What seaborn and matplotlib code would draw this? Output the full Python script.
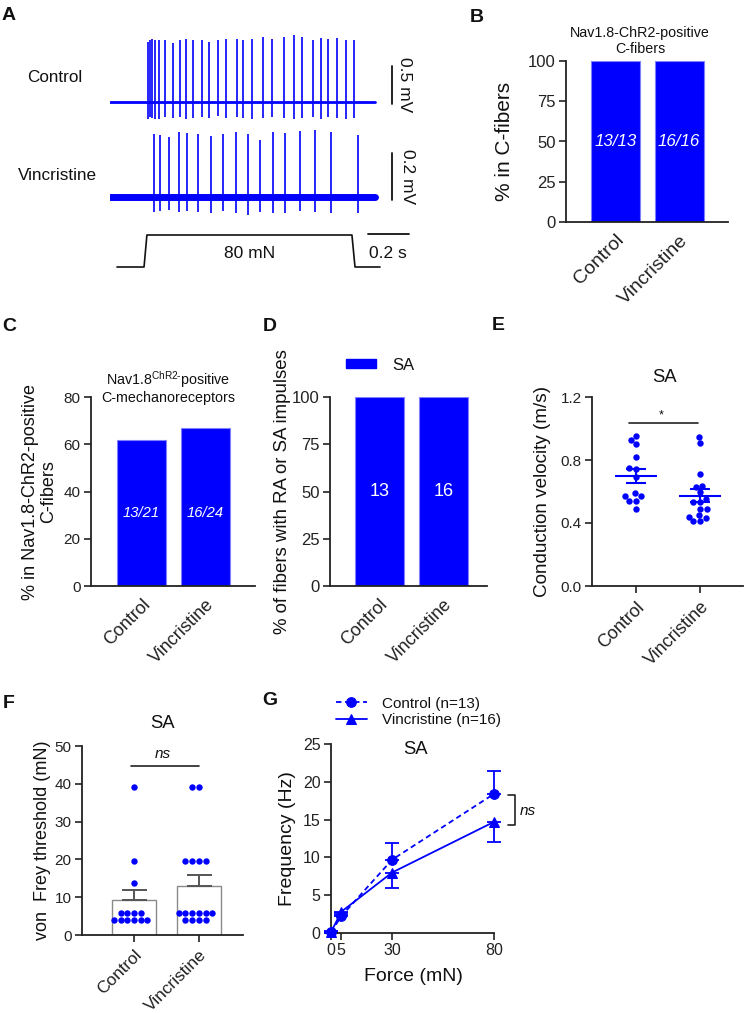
import numpy as np
import pandas as pd
import matplotlib
matplotlib.use('Agg')
import matplotlib.pyplot as plt
import seaborn as sns
from matplotlib.patches import Patch

# ---------------- data ----------------
groups = ['Control', 'Vincristine']
BLUE = '#0000ff'

# A: example recordings (time in s, voltage in mV, force in mN)
trace_t = [0.0, 1.293]
ctrl_spike_t = [0.185, 0.195, 0.205, 0.22, 0.239, 0.268, 0.307, 0.341, 0.371, 0.405,
                0.449, 0.483, 0.527, 0.566, 0.62, 0.649, 0.693, 0.746, 0.79, 0.849,
                0.898, 0.937, 0.99, 1.029, 1.063, 1.107, 1.151, 1.19]
ctrl_spike_top = [0.79, 0.82, 0.83, 0.82, 0.82, 0.81, 0.78, 0.81, 0.83, 0.82,
                  0.81, 0.79, 0.81, 0.83, 0.83, 0.82, 0.83, 0.85, 0.83, 0.85,
                  0.88, 0.86, 0.82, 0.84, 0.83, 0.84, 0.82, 0.82]
ctrl_spike_bot = [-0.22, -0.2, -0.21, -0.22, -0.22, -0.2, -0.21, -0.2, -0.22, -0.21,
                  -0.2, -0.21, -0.19, -0.21, -0.2, -0.21, -0.22, -0.21, -0.2, -0.21,
                  -0.23, -0.21, -0.2, -0.22, -0.2, -0.21, -0.22, -0.21]
vinc_spike_t = [0.215, 0.244, 0.288, 0.337, 0.376, 0.429, 0.493, 0.551, 0.615,
                0.673, 0.732, 0.795, 0.854, 0.927, 1.0, 1.078, 1.21]
vinc_spike_top = [0.269, 0.262, 0.255, 0.277, 0.274, 0.267, 0.258, 0.267, 0.277,
                  0.267, 0.244, 0.277, 0.272, 0.279, 0.284, 0.277, 0.262]
vinc_spike_bot = [-0.065, -0.06, -0.055, -0.065, -0.06, -0.065, -0.07, -0.06, -0.07,
                  -0.075, -0.065, -0.07, -0.07, -0.06, -0.065, -0.07, -0.07]
stim_t = [0.034, 0.166, 0.18, 1.18, 1.195, 1.317]
stim_f = [0, 0, 80, 80, 0, 0]

# B
pct_B = [100, 100]
lab_B = ['13/13', '16/16']
# C
pct_C = [61.9, 66.7]
lab_C = ['13/21', '16/24']
# D
pct_D = [100, 100]
lab_D = ['13', '16']
# E conduction velocity (m/s)
cv_ctrl = [0.951, 0.925, 0.90, 0.82, 0.746, 0.75, 0.693, 0.592, 0.57, 0.57, 0.541, 0.541, 0.488]
cv_vinc = [0.948, 0.908, 0.712, 0.638, 0.627, 0.596, 0.55, 0.533, 0.533, 0.49, 0.49,
           0.45, 0.44, 0.41, 0.41, 0.43]
# F von Frey threshold (mN)
vf_ctrl = [3.92, 3.92, 3.92, 3.92, 3.92, 3.92, 5.88, 5.88, 5.88, 5.88, 13.7, 19.6, 39.2]
vf_vinc = [3.92, 3.92, 3.92, 3.92, 5.88, 5.88, 5.88, 5.88, 5.88, 5.88,
           19.6, 19.6, 19.6, 19.6, 39.2, 39.2]
# G frequency vs force
force = [0, 5, 30, 80]
g_labels = ['Control (n=13)', 'Vincristine (n=16)']
freq_ctrl = [0.1, 2.2, 9.7, 18.4]
sem_ctrl = [0.1, 0.5, 2.2, 3.0]
freq_vinc = [0.1, 2.8, 8.0, 14.7]
sem_vinc = [0.1, 0.4, 2.0, 2.7]

# ---------------- style ----------------
sns.set_theme(style='ticks')
plt.rcParams['font.family'] = ['Liberation Sans', 'DejaVu Sans']
plt.rcParams['axes.linewidth'] = 1.3
plt.rcParams['axes.edgecolor'] = '#222222'
plt.rcParams['xtick.major.width'] = 1.2
plt.rcParams['ytick.major.width'] = 1.2
plt.rcParams['xtick.major.size'] = 5
plt.rcParams['ytick.major.size'] = 5
plt.rcParams['xtick.major.pad'] = 2.5
plt.rcParams['ytick.major.pad'] = 2.5
plt.rcParams['xtick.color'] = '#222222'
plt.rcParams['ytick.color'] = '#222222'
plt.rcParams['xtick.labelsize'] = 11
plt.rcParams['ytick.labelsize'] = 11
plt.rcParams['axes.labelsize'] = 13.5
plt.rcParams['text.color'] = '#111111'
plt.rcParams['axes.labelcolor'] = '#111111'

W, H = 746, 1013
fig = plt.figure(figsize=(W / 100, H / 100), dpi=100)


def add_ax(x0, y0, x1, y1):
    return fig.add_axes([x0 / W, 1 - y1 / H, (x1 - x0) / W, (y1 - y0) / H])


def ftext(x, y, s, **kw):
    return fig.text(x / W, 1 - y / H, s, **kw)


def style_cat(ax, xticks=False, size=13):
    sns.despine(ax=ax)
    ax.set_xlabel('')
    ax.set_xticks([0, 1])
    ax.set_xticklabels(groups, rotation=45, ha='right', va='top',
                       rotation_mode='anchor', fontsize=size)
    if not xticks:
        ax.tick_params(axis='x', length=0, pad=7)
    else:
        ax.tick_params(axis='x', pad=4)


# ---------------- A ----------------
axc = add_ax(110, 30, 420, 125)
axc.set_xlim(0, 1.512); axc.set_ylim(-0.303, 0.947); axc.axis('off')
axc.plot(trace_t, [0, 0], color=BLUE, lw=2)
axc.vlines(ctrl_spike_t, ctrl_spike_bot, ctrl_spike_top, color=BLUE, lw=1.2)
axc.plot([1.376, 1.376], [-0.026, 0.474], color='#111', lw=1.3)
axc.text(1.435, 0.224, '0.5 mV', rotation=270, ha='center', va='center', fontsize=12.5)

axv = add_ax(110, 125, 420, 225)
axv.set_xlim(0, 1.512); axv.set_ylim(-0.119, 0.306); axv.axis('off')
axv.plot(trace_t, [0, 0], color=BLUE, lw=5)
axv.vlines(vinc_spike_t, vinc_spike_bot, vinc_spike_top, color=BLUE, lw=1.2)
axv.plot([1.376, 1.376], [-0.013, 0.187], color='#111', lw=1.3)
axv.text(1.45, 0.087, '0.2 mV', rotation=270, ha='center', va='center', fontsize=12.5)

axs = add_ax(110, 225, 420, 275)
axs.set_xlim(0, 1.512); axs.set_ylim(-20, 105); axs.axis('off')
axs.plot(stim_t, stim_f, color='#111', lw=1.2)
axs.plot([1.259, 1.459], [82.5, 82.5], color='#111', lw=1.3)
axs.text(1.356, 35, '0.2 s', ha='center', va='center', fontsize=12.5)
axs.text(0.683, 35, '80 mN', ha='center', va='center', fontsize=12.5)
ftext(55, 77, 'Control', ha='center', va='center', fontsize=12.3)
ftext(57, 175, 'Vincristine', ha='center', va='center', fontsize=12.3)

# ---------------- B ----------------
axB = add_ax(566, 61, 728, 222)
sns.barplot(x=groups, y=pct_B, color=BLUE, saturation=1, width=0.77,
            edgecolor='#8080ff', linewidth=0.8, ax=axB)
axB.set_xlim(-0.78, 1.77); axB.set_ylim(0, 100)
axB.set_yticks([0, 25, 50, 75, 100])
axB.tick_params(axis='y', labelsize=12)
style_cat(axB, size=14)
axB.set_ylabel('% in C-fibers', fontsize=15)
axB.yaxis.set_label_coords((514 - 566) / 162, 0.5)
for i, lab in enumerate(lab_B):
    axB.text(i, 50, lab, color='white', style='italic', ha='center', va='center', fontsize=12.2)
ftext(640, 41, 'Nav1.8-ChR2-positive\nC-fibers', ha='center', va='center', fontsize=10.3,
      linespacing=1.2)

# ---------------- C ----------------
axC = add_ax(91, 397, 255, 586)
sns.barplot(x=groups, y=pct_C, color=BLUE, saturation=1, width=0.77,
            edgecolor='#8080ff', linewidth=0.8, ax=axC)
axC.set_xlim(-0.79, 1.77); axC.set_ylim(0, 80)
axC.set_yticks([0, 20, 40, 60, 80])
style_cat(axC)
axC.set_ylabel('% in Nav1.8-ChR2-positive\nC-fibers', fontsize=13, linespacing=1.1)
axC.yaxis.set_label_coords((57 - 91) / 164, 0.5)
for i, lab in enumerate(lab_C):
    axC.text(i, 31, lab, color='white', style='italic', ha='center', va='center', fontsize=10.6)
ftext(168, 387, 'Nav1.8$^{\\mathregular{ChR2\u2010}}$positive\nC-mechanoreceptors',
      ha='center', va='center', fontsize=10.3, linespacing=1.1)

# ---------------- D ----------------
axD = add_ax(330, 397, 487, 586)
sns.barplot(x=groups, y=pct_D, color=BLUE, saturation=1, width=0.77,
            edgecolor='#8080ff', linewidth=0.8, ax=axD)
axD.set_xlim(-0.77, 1.68); axD.set_ylim(0, 100)
axD.set_yticks([0, 25, 50, 75, 100])
axD.tick_params(axis='y', labelsize=12)
style_cat(axD)
axD.set_ylabel('% of fibers with RA or SA impulses', fontsize=13.4)
axD.yaxis.set_label_coords((291 - 330) / 157, 0.5)
for i, lab in enumerate(lab_D):
    axD.text(i, 50, lab, color='white', ha='center', va='center', fontsize=13)
axD.legend(handles=[Patch(facecolor=BLUE, edgecolor=BLUE, label='SA')],
           loc='center left', bbox_to_anchor=(346 / W, 1 - 365 / H),
           bbox_transform=fig.transFigure, frameon=False, fontsize=12,
           handlelength=1.8, handleheight=0.48, handletextpad=1.0, borderpad=0,
           borderaxespad=0)

# ---------------- E ----------------
axE = add_ax(592, 397, 743, 586)
dfE = pd.DataFrame({'group': ['Control'] * len(cv_ctrl) + ['Vincristine'] * len(cv_vinc),
                    'cv': cv_ctrl + cv_vinc})
sns.swarmplot(data=dfE, x='group', y='cv', order=groups, color=BLUE, size=4.6, ax=axE)
for i, vals in enumerate([cv_ctrl, cv_vinc]):
    v = np.array(vals)
    m = v.mean(); s = v.std(ddof=1) / np.sqrt(len(v))
    axE.hlines(m, i - 0.33, i + 0.33, color=BLUE, lw=1.5, zorder=5)
    axE.hlines([m - s, m + s], i - 0.16, i + 0.16, color=BLUE, lw=1.5, zorder=5)
    axE.vlines(i, m - s, m + s, color=BLUE, lw=1.5, zorder=5)
axE.set_xlim(-0.69, 1.67); axE.set_ylim(0, 1.2)
axE.set_yticks([0, 0.4, 0.8, 1.2])
axE.set_yticklabels(['0.0', '0.4', '0.8', '1.2'])
style_cat(axE, xticks=True)
axE.set_ylabel('Conduction velocity (m/s)', fontsize=13.6)
axE.yaxis.set_label_coords((551 - 592) / 151, 0.5)
axE.plot([-0.11, 0.97], [1.036, 1.036], color='#222', lw=1.2)
axE.text(0.39, 1.085, '*', ha='center', va='center', fontsize=9)
ftext(665, 377, 'SA', ha='center', va='center', fontsize=13.3)

# ---------------- F ----------------
axF = add_ax(82, 746, 243, 935)
dfF = pd.DataFrame({'group': ['Control'] * len(vf_ctrl) + ['Vincristine'] * len(vf_vinc),
                    'vf': vf_ctrl + vf_vinc})
sns.barplot(data=dfF, x='group', y='vf', order=groups, errorbar=None, color='white',
            saturation=1, edgecolor='#8a8a8a', linewidth=1.0, width=0.68, ax=axF)
for i, vals in enumerate([vf_ctrl, vf_vinc]):
    v = np.array(vals)
    m = v.mean(); s = v.std(ddof=1) / np.sqrt(len(v))
    axF.errorbar(i, m, yerr=[[0], [s]], fmt='none', ecolor='#555555', elinewidth=1.4,
                 capsize=9, capthick=1.4, zorder=3)
sns.swarmplot(data=dfF, x='group', y='vf', order=groups, color=BLUE, size=4.6, ax=axF,
              zorder=4)
axF.set_xlim(-0.8, 1.68); axF.set_ylim(0, 50)
axF.set_yticks([0, 10, 20, 30, 40, 50])
style_cat(axF, xticks=True, size=12.4)
axF.set_ylabel('von  Frey threshold (mN)', fontsize=13)
axF.yaxis.set_label_coords((51 - 82) / 161, 0.5)
axF.plot([-0.05, 1.0], [44.8, 44.8], color='#222', lw=1.2)
axF.text(0.45, 48.0, 'ns', style='italic', ha='center', va='center', fontsize=11)
ftext(163, 723, 'SA', ha='center', va='center', fontsize=13.3)

# ---------------- G ----------------
axG = add_ax(331, 744, 494, 933)
dfG = pd.DataFrame({'force': force * 2,
                    'freq': freq_ctrl + freq_vinc,
                    'group': [g_labels[0]] * 4 + [g_labels[1]] * 4})
sns.lineplot(data=dfG, x='force', y='freq', hue='group', style='group',
             hue_order=g_labels, style_order=g_labels,
             palette=[BLUE, BLUE], markers={g_labels[0]: 'o', g_labels[1]: '^'},
             dashes={g_labels[0]: (3, 2), g_labels[1]: ''},
             markersize=7, markeredgecolor=BLUE, lw=1.3, ax=axG, clip_on=False, zorder=4)
axG.errorbar(force, freq_ctrl, yerr=[np.zeros(4), sem_ctrl], fmt='none', ecolor=BLUE,
             elinewidth=1.3, capsize=5, capthick=1.3, clip_on=False)
axG.errorbar(force, freq_vinc, yerr=[sem_vinc, np.zeros(4)], fmt='none', ecolor=BLUE,
             elinewidth=1.3, capsize=5, capthick=1.3, clip_on=False)
axG.set_xlim(0, 80); axG.set_ylim(0, 25)
axG.set_xticks([0, 5, 30, 80])
axG.set_yticks([0, 5, 10, 15, 20, 25])
axG.tick_params(labelsize=11.5)
sns.despine(ax=axG)
axG.set_xlabel('Force (mN)', fontsize=14)
axG.xaxis.set_label_coords((413 - 331) / 163, (933 - 968) / 189)
axG.set_ylabel('Frequency (Hz)', fontsize=14)
axG.yaxis.set_label_coords((296 - 331) / 163, 0.5)
axG.plot([86.9, 90.3, 90.3, 86.9], [18.25, 18.25, 14.3, 14.3], color='#222', lw=1.2,
         clip_on=False)
axG.text(96.7, 16.2, 'ns', style='italic', ha='center', va='center', fontsize=11)
axG.legend(loc='center left', bbox_to_anchor=(336 / W, 1 - 712 / H),
           bbox_transform=fig.transFigure, frameon=False, fontsize=11,
           handlelength=2.0, labelspacing=0.18, handletextpad=1.0, borderpad=0,
           borderaxespad=0)
ftext(416, 750, 'SA', ha='center', va='center', fontsize=13.3)

# ---------------- panel letters ----------------
for lab, x, y in [('A', 9, 16), ('B', 477, 17), ('C', 9, 326), ('D', 270, 326),
                  ('E', 498, 325), ('F', 9, 703), ('G', 270, 700)]:
    ftext(x, y, lab, ha='center', va='center', fontsize=14, fontweight='bold')

fig.savefig('out.png', dpi=100)
